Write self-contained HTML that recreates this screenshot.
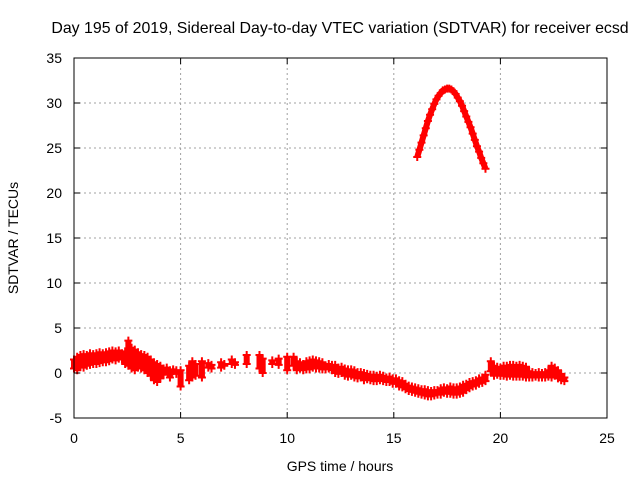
<!DOCTYPE html>
<html><head><meta charset="utf-8"><style>
body{margin:0;background:#fff;}
svg{display:block;font-family:"Liberation Sans",sans-serif;}
</style></head><body>
<svg id="c" width="640" height="480">
<rect width="640" height="480" fill="#fff"/>
<text x="340" y="33" font-size="15.9" text-anchor="middle">Day 195 of 2019, Sidereal Day-to-day VTEC variation (SDTVAR) for receiver ecsd</text>
<text x="340" y="471" font-size="14" text-anchor="middle">GPS time / hours</text>
<text x="0" y="0" font-size="14" text-anchor="middle" transform="translate(18,238) rotate(-90)">SDTVAR / TECUs</text>
<g id="grid"></g><g id="marks"></g><g id="axes"></g>
</svg>
<script>
const xTicks=[0,5,10,15,20,25];
const yTicks=[-5,0,5,10,15,20,25,30,35];
const archT=[16.1,16.2,16.3,16.4,16.5,16.6,16.7,16.8,16.9,17.0,17.1,17.2,17.3,17.4,17.5,17.6,17.7,17.8,17.9,18.0,18.1,18.2,18.3,18.4,18.5,18.6,18.7,18.8,18.9,19.0,19.1,19.2,19.3];
const archV=[24.0,24.8,25.6,26.4,27.2,28.0,28.7,29.3,29.9,30.4,30.8,31.1,31.4,31.5,31.6,31.6,31.5,31.3,31.0,30.6,30.2,29.7,29.1,28.5,27.9,27.3,26.6,25.9,25.2,24.6,23.9,23.3,22.7];
const lowT=[0,0.15,0.3,0.45,0.6,0.75,0.9,1.05,1.2,1.35,1.5,1.65,1.8,1.95,2.1,2.25,2.4,2.55,2.7,2.85,3.0,3.15,3.3,3.45,3.6,3.75,3.9,4.05,4.2,4.35,4.5,4.65,4.8,5.0,5.4,5.55,5.7,6.0,6.3,6.45,6.9,7.05,7.4,7.55,8.1,8.7,8.85,9.3,9.6,10.0,10.3,10.45,10.6,10.75,10.9,11.05,11.2,11.35,11.5,11.65,11.8,11.95,12.1,12.25,12.4,12.55,12.7,12.85,13.0,13.15,13.3,13.45,13.6,13.75,13.9,14.05,14.2,14.35,14.5,14.65,14.8,14.95,15.1,15.25,15.4,15.55,15.7,15.85,16.0,16.15,16.3,16.45,16.6,16.75,16.9,17.05,17.2,17.35,17.5,17.65,17.8,17.95,18.1,18.25,18.4,18.55,18.7,18.85,19.0,19.15,19.3,19.55,19.7,19.85,20.0,20.15,20.3,20.45,20.6,20.75,20.9,21.05,21.2,21.35,21.5,21.65,21.8,21.95,22.1,22.25,22.4,22.55,22.7,22.85,23.0];
const lowHi=[1.5,1.8,2.0,2.1,2.0,2.2,2.1,2.2,2.3,2.2,2.3,2.4,2.5,2.4,2.5,2.2,2.4,3.6,2.8,2.6,2.3,2.1,2.0,1.8,1.5,1.2,1.0,0.8,0.5,0.6,0.3,0.4,0.3,0.3,0.8,1.3,1.0,1.3,1.1,0.9,1.2,1.0,1.5,1.2,2.0,2.0,1.6,1.4,1.6,1.8,1.8,1.3,1.2,1.0,1.3,1.4,1.5,1.4,1.3,1.2,0.8,1.0,0.9,0.9,0.6,0.7,0.5,0.4,0.4,0.3,0.1,0.1,0.0,-0.1,-0.2,-0.2,-0.3,-0.2,-0.3,-0.5,-0.4,-0.6,-0.6,-0.8,-0.9,-1.2,-1.4,-1.5,-1.6,-1.7,-1.8,-1.8,-1.9,-2.0,-1.9,-1.9,-1.7,-1.6,-1.7,-1.5,-1.6,-1.6,-1.5,-1.3,-1.2,-1.0,-0.9,-0.8,-0.6,-0.5,-0.2,1.3,0.8,0.7,0.6,0.8,0.8,0.9,0.9,0.8,0.9,0.8,0.7,0.2,0.1,0.0,0.1,0.0,0.1,0.3,0.8,0.6,0.3,-0.1,-0.5];
const lowLo=[0.5,0.3,0.7,0.6,0.8,0.9,1.0,1.0,1.1,1.2,1.2,1.3,1.5,1.4,1.6,1.5,1.0,0.8,0.5,0.3,0.6,0.5,0.3,0.0,-0.3,-0.8,-1.0,-0.6,-0.2,0.3,-0.5,0.2,-0.1,-1.5,-0.8,-0.5,-0.3,-0.5,0.6,0.5,0.6,0.8,1.0,0.9,1.0,0.5,0.0,1.0,0.9,0.3,0.8,0.3,0.5,0.3,0.4,0.4,0.6,0.5,0.5,0.4,0.4,0.5,0.3,0.0,-0.1,0.0,-0.3,-0.4,-0.3,-0.5,-0.6,-0.5,-0.8,-0.7,-0.8,-0.9,-0.9,-0.8,-0.9,-1.0,-1.0,-1.2,-1.2,-1.5,-1.6,-1.8,-2.0,-2.1,-2.2,-2.3,-2.4,-2.5,-2.6,-2.6,-2.5,-2.4,-2.4,-2.2,-2.3,-2.3,-2.4,-2.4,-2.3,-2.2,-1.9,-1.7,-1.5,-1.4,-1.2,-1.1,-0.9,0.2,-0.3,-0.2,-0.3,-0.3,-0.4,-0.3,-0.4,-0.4,-0.4,-0.4,-0.5,-0.5,-0.5,-0.4,-0.5,-0.5,-0.5,-0.4,-0.5,-0.3,-0.6,-0.8,-0.9];
const L=74,R=607,T=58,B=418;
const X=t=>L+(t-0)/(25-0)*(R-L);
const Y=v=>B-(v+5)/(35+5)*(B-T);
const NS='http://www.w3.org/2000/svg';
function mk(tag,attrs,parent){const e=document.createElementNS(NS,tag);for(const k in attrs)e.setAttribute(k,attrs[k]);parent.appendChild(e);return e;}
const grid=document.getElementById('grid'),marks=document.getElementById('marks'),axes=document.getElementById('axes');
xTicks.forEach(t=>{
  if(t>0&&t<25){const g=mk('line',{x1:X(t),x2:X(t),y1:T,y2:B,stroke:'#a0a0a0','stroke-dasharray':'2,3'},grid);
  
  }
  mk('line',{x1:X(t),x2:X(t),y1:B,y2:B-6,stroke:'#000'},axes);
  mk('line',{x1:X(t),x2:X(t),y1:T,y2:T+6,stroke:'#000'},axes);
  const tx=mk('text',{x:X(t),y:B+25,'font-size':14,'text-anchor':'middle'},axes);tx.textContent=t;
  
  
});
yTicks.forEach(v=>{
  if(v>-5&&v<35){const g=mk('line',{x1:L,x2:R,y1:Y(v),y2:Y(v),stroke:'#a0a0a0','stroke-dasharray':'2,3'},grid);
  
  }
  mk('line',{x1:L,x2:L+6,y1:Y(v),y2:Y(v),stroke:'#000'},axes);
  mk('line',{x1:R,x2:R-6,y1:Y(v),y2:Y(v),stroke:'#000'},axes);
  const tx=mk('text',{x:L-12,y:Y(v)+5,'font-size':14,'text-anchor':'end'},axes);tx.textContent=v;
  
  
});
const fr=mk('rect',{x:L,y:T,width:R-L,height:B-T,fill:'none',stroke:'#000'},axes);


function plus(t,v){
  const g=mk('path',{d:`M${X(t)-4},${Y(v)}h8M${X(t)},${Y(v)-4}v8`,stroke:'#f00','stroke-width':2,fill:'none'},marks);
  
  
}
lowT.forEach((t,i)=>{
  const r=mk('rect',{x:X(t)-3,y:Y(lowHi[i]),width:6,height:Math.max(0,Y(lowLo[i])-Y(lowHi[i])),fill:'#f00'},marks);
  
  
  plus(t,lowHi[i]);plus(t,lowLo[i]);
});
const arch=mk('polyline',{points:archT.map((t,i)=>X(t)+','+Y(archV[i])).join(' '),fill:'none',stroke:'#f00','stroke-width':6,'stroke-linejoin':'round'},marks);


archT.forEach((t,i)=>plus(t,archV[i]));
</script>
</body></html>
